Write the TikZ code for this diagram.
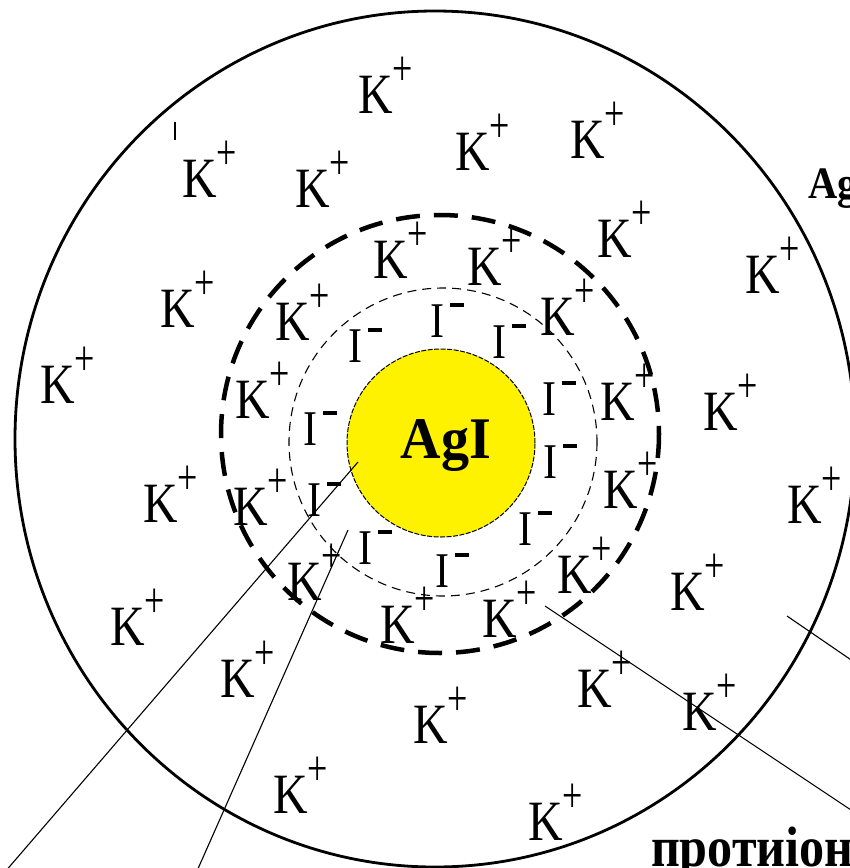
\documentclass[tikz,border=0pt]{standalone}
\usepackage{fontspec}
\setmainfont{Liberation Serif}
\usepackage{graphicx}
\newcommand{\Kion}{\scalebox{0.84}[1]{\fontsize{57}{57}\selectfont K}\raisebox{28pt}{\scalebox{1}[1.4]{\fontsize{36}{36}\selectfont +}}}
\newcommand{\Iion}{\scalebox{0.84}[1]{\fontsize{50}{50}\selectfont I}\hspace{6pt}\raisebox{30pt}{\rule{14pt}{4.5pt}}}
\begin{document}
\begin{tikzpicture}[x=1pt,y=-1pt,
  ion/.style={anchor=base west, inner sep=0pt, outer sep=0pt},
  bigring/.style={line width=2.8pt},
  sternring/.style={line width=4.5pt, dash pattern=on 24pt off 14pt},
  adsring/.style={line width=1.1pt, dash pattern=on 9pt off 6pt},
  core/.style={circle, fill=yellow, draw=black, line width=1pt, dash pattern=on 5pt off 1.5pt, minimum size=188pt, inner sep=0pt},
  leader/.style={line width=1.1pt},
  label/.style={inner sep=0pt, outer sep=0pt}]
\useasboundingbox (0,0) rectangle (850,868);
\fill[white] (0,0) rectangle (850,868);
% rings
\draw[bigring] (435,439) ellipse [x radius=420, y radius=428];
\draw[adsring] (443,442) circle [radius=154];
\draw[sternring] (440,434) circle [radius=219];
\node[core] (core) at (441,443) {};
\node[label, anchor=base] (agi) at (446,458) {\scalebox{0.95}[1]{\fontsize{59}{59}\selectfont\bfseries AgI}};
% stray mark
\draw[line width=1.5pt] (175,122) -- (175,140);
% potential-determining ions I-
\node[ion] (i1) at (348,362) {\Iion};
\node[ion] (i2) at (430,337) {\Iion};
\node[ion] (i3) at (492,358) {\Iion};
\node[ion] (i4) at (542,415) {\Iion};
\node[ion] (i5) at (543,478) {\Iion};
\node[ion] (i6) at (518,545) {\Iion};
\node[ion] (i7) at (435,587) {\Iion};
\node[ion] (i8) at (358,564) {\Iion};
\node[ion] (i9) at (307,516) {\Iion};
\node[ion] (i10) at (303,445) {\Iion};
% counter ions K+
\node[ion] (k1) at (358,113) {\Kion};
\node[ion] (k2) at (182,197) {\Kion};
\node[ion] (k3) at (295,207) {\Kion};
\node[ion] (k4) at (373,278) {\Kion};
\node[ion] (k5) at (160,327) {\Kion};
\node[ion] (k6) at (275,340) {\Kion};
\node[ion] (k7) at (455,170) {\Kion};
\node[ion] (k8) at (570,158) {\Kion};
\node[ion] (k9) at (597,257) {\Kion};
\node[ion] (k10) at (745,293) {\Kion};
\node[ion] (k11) at (467,285) {\Kion};
\node[ion] (k12) at (540,335) {\Kion};
\node[ion] (k13) at (40,403) {\Kion};
\node[ion] (k14) at (235,418) {\Kion};
\node[ion] (k15) at (143,522) {\Kion};
\node[ion] (k16) at (233,525) {\Kion};
\node[ion] (k17) at (110,645) {\Kion};
\node[ion] (k18) at (287,600) {\Kion};
\node[ion] (k19) at (380,643) {\Kion};
\node[ion] (k20) at (600,420) {\Kion};
\node[ion] (k21) at (703,430) {\Kion};
\node[ion] (k22) at (603,508) {\Kion};
\node[ion] (k23) at (787,523) {\Kion};
\node[ion] (k24) at (557,593) {\Kion};
\node[ion] (k25) at (670,610) {\Kion};
\node[ion] (k26) at (482,637) {\Kion};
\node[ion] (k27) at (220,697) {\Kion};
\node[ion] (k28) at (413,743) {\Kion};
\node[ion] (k29) at (273,813) {\Kion};
\node[ion] (k30) at (528,840) {\Kion};
\node[ion] (k31) at (577,707) {\Kion};
\node[ion] (k32) at (682,730) {\Kion};
% labels cut by the frame, as in the reference
\node[label, anchor=base west] (aglab) at (808,198) {\scalebox{0.9}[1]{\fontsize{45}{45}\selectfont\bfseries Ag}};
\node[label, anchor=base west] (protlab) at (651,866) {\scalebox{0.88}[1]{\fontsize{57}{57}\selectfont\bfseries протиіон}};
% leader lines
\coordinate (l1a) at (358,462); \coordinate (l1b) at (-2,880);
\coordinate (l2a) at (348,530); \coordinate (l2b) at (193,880);
\coordinate (l3a) at (545,606); \coordinate (l3b) at (860,816);
\coordinate (l4a) at (787,616); \coordinate (l4b) at (860,666);
\draw[leader] (l1a) -- (l1b);
\draw[leader] (l2a) -- (l2b);
\draw[leader] (l3a) -- (l3b);
\draw[leader] (l4a) -- (l4b);
\end{tikzpicture}
\end{document}
